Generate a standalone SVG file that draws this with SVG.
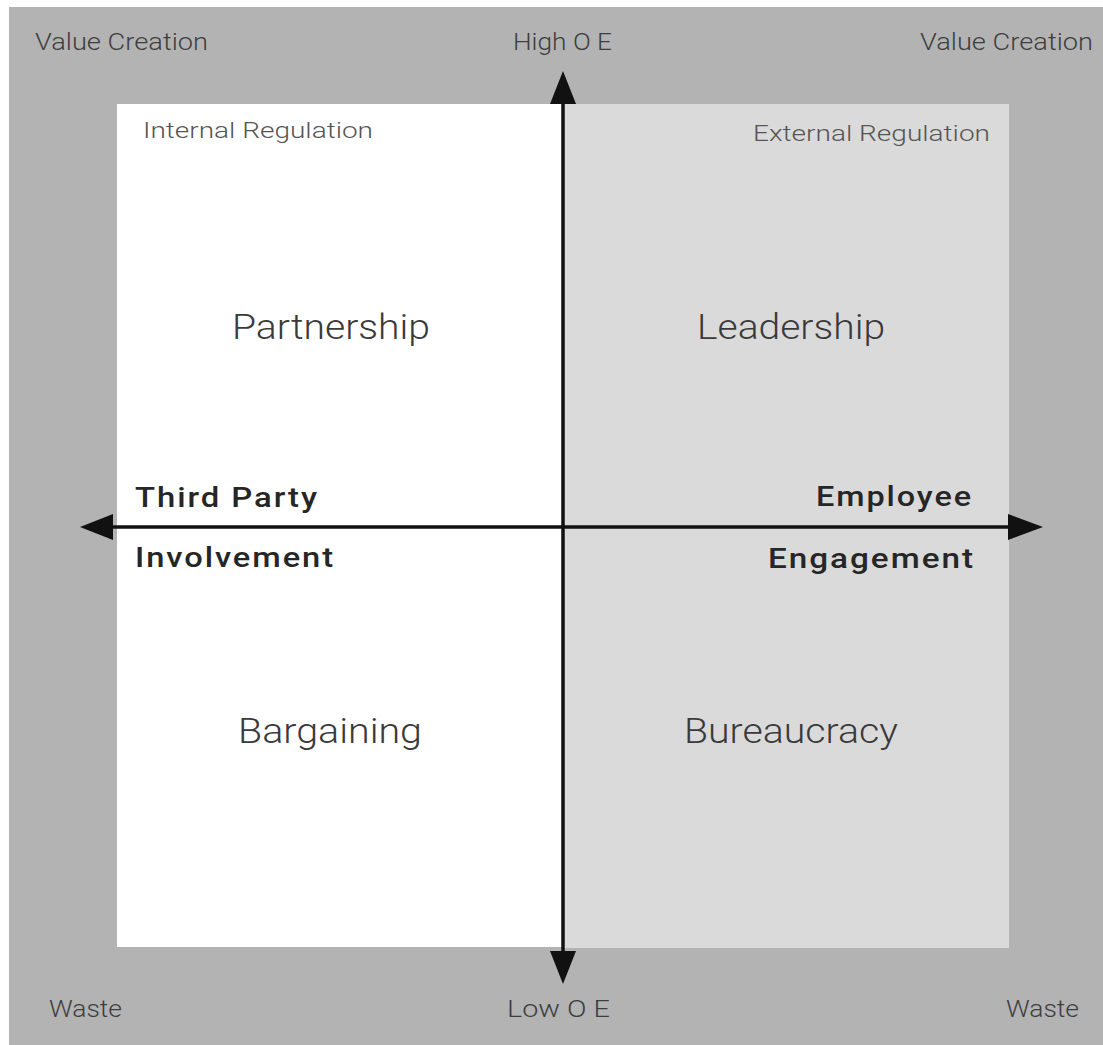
<svg xmlns="http://www.w3.org/2000/svg" width="1103" height="1045" viewBox="0 0 1103 1045">
  <style>
    .lbl { font-family: Roboto, "Liberation Sans", sans-serif; font-weight: 300; fill: #3e3e3e; }
    .corner { font-size: 23px; }
    .reg { font-size: 22px; fill: #555555; }
    .quad { font-size: 35px; fill: #3a3a3a; }
    .axis { font-family: Roboto, "Liberation Sans", sans-serif; font-weight: 500; font-size: 27px; fill: #262626; letter-spacing: 1.6px; }
    .line { stroke: #111111; stroke-width: 3.5; fill: none; }
    .head { fill: #111111; }
  </style>

  <!-- outer frame -->
  <rect x="0" y="0" width="1103" height="1045" fill="#ffffff"/>
  <rect x="9" y="7" width="1094" height="1038" fill="#b3b3b3"/>

  <!-- left (internal) half -->
  <g id="quadrant-internal">
    <rect x="117" y="104" width="446" height="843" fill="#ffffff"/>
    <text class="lbl reg" x="143" y="138" textLength="230" lengthAdjust="spacingAndGlyphs">Internal Regulation</text>
  </g>

  <!-- right (external) half -->
  <g id="quadrant-external">
    <rect x="563" y="104" width="446" height="844" fill="#dadada"/>
    <text class="lbl reg" x="990" y="141" text-anchor="end" textLength="237" lengthAdjust="spacingAndGlyphs">External Regulation</text>
  </g>

  <!-- axes -->
  <g id="connectors">
    <line class="line" x1="563" y1="100" x2="563" y2="955"/>
    <polygon class="head" points="563,71 550,104 576,104"/>
    <polygon class="head" points="563,984 550,951 576,951"/>
    <line class="line" x1="110" y1="527" x2="1012" y2="527"/>
    <polygon class="head" points="80,527 113,514 113,540"/>
    <polygon class="head" points="1043,527 1008,514 1008,540"/>
  </g>

  <!-- corner labels -->
  <g id="corner-labels">
    <text class="lbl corner" x="35" y="50" textLength="173" lengthAdjust="spacingAndGlyphs">Value Creation</text>
    <text class="lbl corner" x="1093" y="50" text-anchor="end" textLength="173" lengthAdjust="spacingAndGlyphs">Value Creation</text>
    <text class="lbl corner" x="49" y="1017" textLength="73" lengthAdjust="spacingAndGlyphs">Waste</text>
    <text class="lbl corner" x="1079" y="1017" text-anchor="end" textLength="73" lengthAdjust="spacingAndGlyphs">Waste</text>
  </g>

  <g id="high-oe">
    <text class="lbl corner" x="513" y="50" textLength="99" lengthAdjust="spacingAndGlyphs">High O E</text>
  </g>
  <g id="low-oe">
    <text class="lbl corner" x="507" y="1017" textLength="103" lengthAdjust="spacingAndGlyphs">Low O E</text>
  </g>

  <!-- quadrant names -->
  <g id="partnership">
    <text class="lbl quad" x="232" y="339" textLength="198" lengthAdjust="spacingAndGlyphs">Partnership</text>
  </g>
  <g id="leadership">
    <text class="lbl quad" x="697" y="339" textLength="188" lengthAdjust="spacingAndGlyphs">Leadership</text>
  </g>
  <g id="bargaining">
    <text class="lbl quad" x="238" y="743" textLength="184" lengthAdjust="spacingAndGlyphs">Bargaining</text>
  </g>
  <g id="bureaucracy">
    <text class="lbl quad" x="684" y="743" textLength="214" lengthAdjust="spacingAndGlyphs">Bureaucracy</text>
  </g>

  <!-- horizontal axis ends -->
  <g id="third-party-involvement">
    <text class="axis" x="135" y="507" textLength="184" lengthAdjust="spacingAndGlyphs">Third Party</text>
    <text class="axis" x="135" y="567" textLength="200" lengthAdjust="spacingAndGlyphs">Involvement</text>
  </g>
  <g id="employee-engagement">
    <text class="axis" x="973" y="506" text-anchor="end" textLength="157" lengthAdjust="spacingAndGlyphs">Employee</text>
    <text class="axis" x="975" y="568" text-anchor="end" textLength="207" lengthAdjust="spacingAndGlyphs">Engagement</text>
  </g>
</svg>
